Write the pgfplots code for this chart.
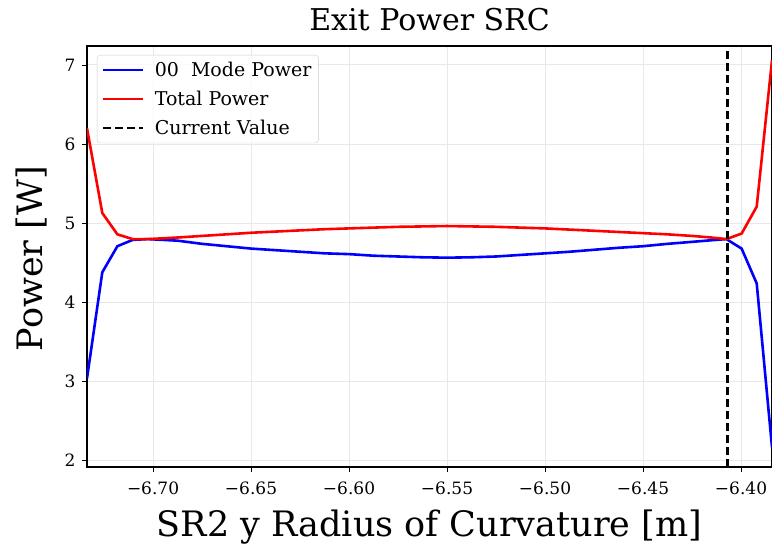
\documentclass[border=0pt]{standalone}
\usepackage{fontspec}
\setmainfont{DejaVu Serif}
\usepackage{pgfplots}
\pgfplotsset{compat=1.18}

\definecolor{mplblue}{rgb}{0,0,1}
\definecolor{mplred}{rgb}{1,0,0}
\definecolor{gridgray}{RGB}{232,232,232}

\begin{document}
\begin{tikzpicture}[x=1pt,y=1pt]
\begin{axis}[
    name=ax,
    at={(0,0)}, anchor=south west,
    width=685pt, height=421pt,
    scale only axis,
    xmin=-6.7337, xmax=-6.3842,
    ymin=1.92, ymax=7.24,
    xtick={-6.70,-6.65,-6.60,-6.55,-6.50,-6.45,-6.40},
    xticklabels={−6.70,−6.65,−6.60,−6.55,−6.50,−6.45,−6.40},
    ytick={2,3,4,5,6,7},
    yticklabels={2,3,4,5,6,7},
    tick pos=left,
    tick align=outside,
    major tick length=5pt,
    every tick/.style={black, line width=0.9pt},
    axis line style={black, line width=1.1pt},
    grid=major,
    major grid style={gridgray, line width=1pt},
    ticklabel style={font=\fontsize{17}{17}\selectfont},
    xticklabel style={yshift=-6pt},
    yticklabel style={xshift=-3pt},
    title={Exit Power SRC},
    title style={at={(axis description cs:0.5,1)}, anchor=south, inner sep=0pt, yshift=9pt,
        font=\fontsize{30}{30}\selectfont},
    xlabel={SR2 y Radius of Curvature [m]},
    xlabel style={at={(axis description cs:0.5,0)}, anchor=base, inner sep=0pt, yshift=-69pt,
        font=\fontsize{35}{35}\selectfont},
    ylabel={Power [W]},
    ylabel style={at={(axis description cs:0,0.5)}, anchor=base, inner sep=0pt,
        yshift=44pt, xshift=-2pt, font=\fontsize{35}{35}\selectfont},
    legend style={at={(axis description cs:0,1)}, anchor=north west, xshift=10pt, yshift=-9pt,
        draw=gray!40, rounded corners=3pt, fill=white, fill opacity=0.8, text opacity=1,
        font=\fontsize{19}{19}\selectfont, inner xsep=5pt, inner ysep=5pt,
        row sep=9pt, cells={anchor=west}},
    legend cell align=left,
    legend image code/.code={\draw[#1] (0pt,0pt) -- (40pt,0pt);},
]
\addplot[mplblue, line width=2.6pt] coordinates {
    (-6.7337,3.04) (-6.7259,4.38) (-6.7182,4.71) (-6.7104,4.79) (-6.7026,4.80)
    (-6.6875,4.78) (-6.6750,4.74) (-6.6625,4.71) (-6.6500,4.68) (-6.6375,4.66)
    (-6.6250,4.64) (-6.6125,4.62) (-6.6000,4.61) (-6.5875,4.59) (-6.5750,4.58)
    (-6.5625,4.57) (-6.5500,4.565) (-6.5375,4.57) (-6.5250,4.58) (-6.5125,4.60)
    (-6.5000,4.62) (-6.4875,4.64) (-6.4750,4.665) (-6.4625,4.69) (-6.4500,4.71)
    (-6.4375,4.74) (-6.4250,4.765) (-6.4153,4.785) (-6.4075,4.80)
    (-6.3997,4.68) (-6.3920,4.24) (-6.3842,2.17)
};
\addlegendentry{\hspace{8pt}00\ \ Mode Power}
\addplot[mplred, line width=2.6pt] coordinates {
    (-6.7337,6.20) (-6.7259,5.13) (-6.7182,4.86) (-6.7104,4.80) (-6.7026,4.80)
    (-6.6875,4.82) (-6.6750,4.84) (-6.6625,4.86) (-6.6500,4.88) (-6.6375,4.895)
    (-6.6250,4.91) (-6.6125,4.925) (-6.6000,4.935) (-6.5875,4.945) (-6.5750,4.955)
    (-6.5625,4.96) (-6.5500,4.965) (-6.5375,4.96) (-6.5250,4.955) (-6.5125,4.945)
    (-6.5000,4.935) (-6.4875,4.92) (-6.4750,4.905) (-6.4625,4.89) (-6.4500,4.875)
    (-6.4375,4.86) (-6.4250,4.84) (-6.4153,4.82) (-6.4075,4.80)
    (-6.3997,4.87) (-6.3920,5.21) (-6.3842,7.06)
};
\addlegendentry{\hspace{8pt}Total Power}
\addplot[black, line width=2.6pt, dash pattern=on 8pt off 4pt] coordinates {
    (-6.4070,1.92) (-6.4070,7.24)
};
\addlegendentry{\hspace{8pt}Current Value}
\end{axis}
\pgfresetboundingbox
\path (-87pt,-77pt) rectangle (685pt,467pt);
\end{tikzpicture}
\end{document}
